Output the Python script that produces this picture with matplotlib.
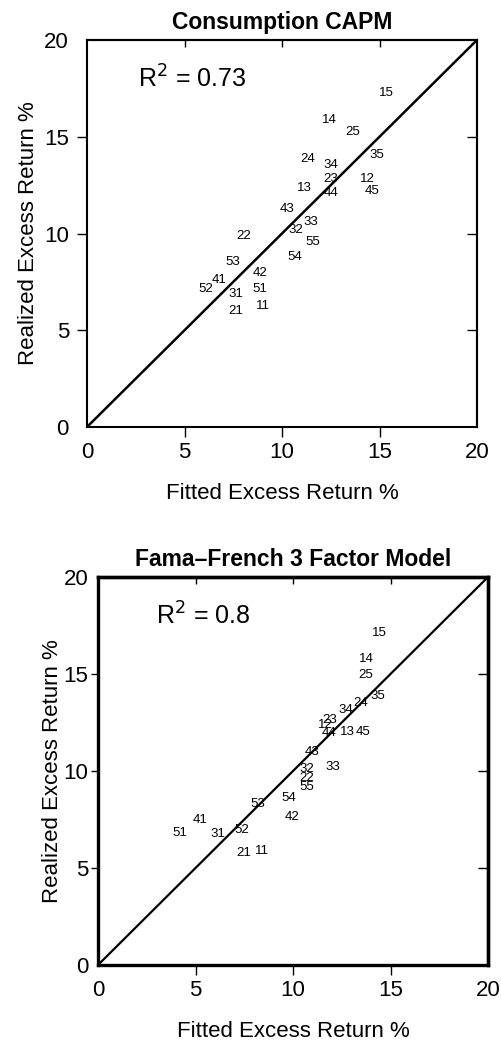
import numpy as np
import matplotlib
matplotlib.use('Agg')
from matplotlib import pyplot as plt

plt.rcParams['font.family'] = ['Liberation Sans', 'DejaVu Sans']

# portfolio labels (size quintile, book/market quintile)
labels = ['11', '12', '13', '14', '15', '21', '22', '23', '24', '25',
          '31', '32', '33', '34', '35', '41', '42', '43', '44', '45',
          '51', '52', '53', '54', '55']

# consumption CAPM: fitted vs realized excess return (%)
capm_fit = [9.04, 14.36, 11.14, 12.41, 15.37, 7.62, 8.02, 12.5, 11.31, 13.6,
            7.62, 10.72, 11.49, 12.5, 14.85, 6.79, 8.87, 10.24, 12.5, 14.63,
            8.84, 6.1, 7.5, 10.67, 11.6]
capm_real = [6.25, 12.82, 12.34, 15.88, 17.25, 5.98, 9.85, 12.8, 13.83, 15.27,
             6.89, 10.19, 10.6, 13.56, 14.06, 7.61, 7.97, 11.27, 12.08, 12.18,
             7.13, 7.13, 8.52, 8.81, 9.55]

# Fama-French 3 factor model
ff_fit = [8.41, 11.64, 12.79, 13.78, 14.41, 7.49, 10.7, 11.9, 13.47, 13.73,
          6.15, 10.7, 12.03, 12.72, 14.37, 5.23, 9.95, 10.96, 11.85, 13.61,
          4.2, 7.38, 8.2, 9.8, 10.7]
ff_real = [5.88, 12.37, 12.03, 15.76, 17.13, 5.77, 9.62, 12.63, 13.52, 14.95,
           6.75, 10.1, 10.22, 13.14, 13.87, 7.47, 7.63, 11.0, 11.94, 12.03,
           6.8, 6.96, 8.3, 8.62, 9.16]

ticks = [0, 5, 10, 15, 20]

fig = plt.figure(figsize=(5.02, 10.44), dpi=100)
ax1 = fig.add_axes([87/502, 1 - 427/1044, 390/502, 387/1044])
ax2 = fig.add_axes([98/502, 1 - 965/1044, 390/502, 388/1044])


def panel(ax, fit, real, title, r2, r2x, spine_w, line_w, ylab_pad, ytick_pad, ytick_len):
    ax.plot([0, 20], [0, 20], color='black', lw=line_w, solid_capstyle='butt')
    for lab, x, y in zip(labels, fit, real):
        ax.text(x, y, lab, ha='center', va='center', fontsize=9.5)
    ax.text(r2x, 18.0, r2, ha='left', va='center', fontsize=18)
    ax.set_xlim(0, 20)
    ax.set_ylim(0, 20)
    ax.set_xticks(ticks)
    ax.set_yticks(ticks)
    ax.tick_params(axis='x', direction='out', length=7, width=1, labelsize=16, pad=4)
    ax.tick_params(axis='y', direction='out', length=ytick_len, width=1, labelsize=16, pad=ytick_pad)
    for t in ax.xaxis.get_major_ticks()[::4] + ax.yaxis.get_major_ticks()[::4]:
        t.tick1line.set_visible(False)
    for s in ax.spines.values():
        s.set_linewidth(spine_w)
    top = ax.secondary_xaxis('top')
    top.set_xticks([5, 10, 15])
    top.set_xticklabels([])
    top.tick_params(direction='in', length=5, width=1)
    top.spines['top'].set_linewidth(spine_w)
    right = ax.secondary_yaxis('right')
    right.set_yticks([5, 10, 15])
    right.set_yticklabels([])
    right.tick_params(direction='in', length=7, width=1)
    right.spines['right'].set_linewidth(spine_w)
    ax.set_xlabel('Fitted Excess Return %', fontsize=16, labelpad=14)
    ax.set_ylabel('Realized Excess Return %', fontsize=16, labelpad=ylab_pad)
    ax.set_title(title, fontsize=16.5, fontweight='bold', pad=8)


panel(ax1, capm_fit, capm_real, 'Consumption CAPM', r'R$^2$ = 0.73', 2.6, 1.5, 1.8, 4, 6, 7)
panel(ax2, ff_fit, ff_real, 'Fama\u2013French 3 Factor Model', r'R$^2$ = 0.8', 3.0, 2.4, 1.6, 0, 2, 5)

fig.savefig('out.png', dpi=100)
